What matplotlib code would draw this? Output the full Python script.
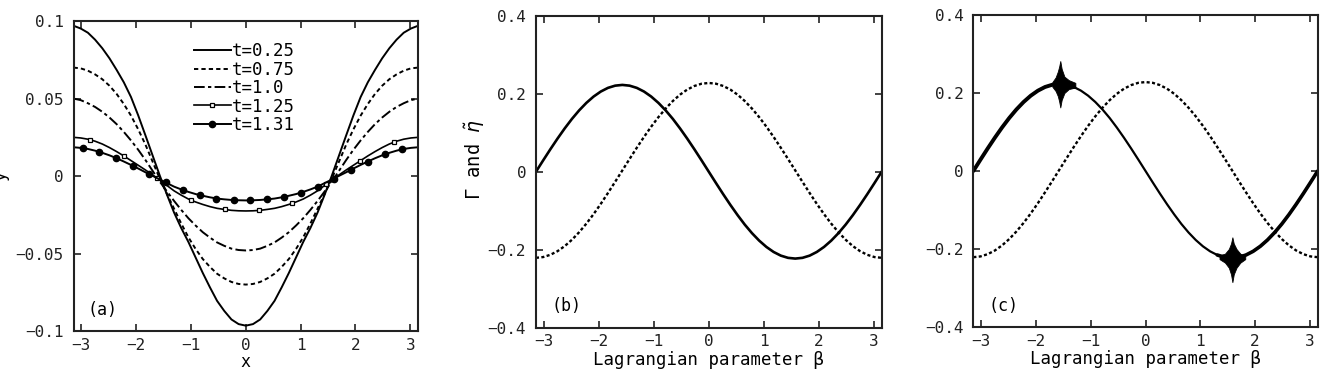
import numpy as np
import matplotlib
matplotlib.use('Agg')
from matplotlib import pyplot as plt
from matplotlib.lines import Line2D

plt.rcParams['font.family'] = ['DejaVu Sans Mono', 'DejaVu Sans']

# shared x grid (step pi/24)
x_grid = [-3.1416, -3.011, -2.880, -2.749, -2.618, -2.487, -2.356, -2.225, -2.094, -1.963, -1.833, -1.702,
          -1.571, -1.440, -1.309, -1.178, -1.047, -0.916, -0.785, -0.654, -0.524, -0.393, -0.262, -0.131,
          0.0,
          0.131, 0.262, 0.393, 0.524, 0.654, 0.785, 0.916, 1.047, 1.178, 1.309, 1.440, 1.571,
          1.702, 1.833, 1.963, 2.094, 2.225, 2.356, 2.487, 2.618, 2.749, 2.880, 3.011, 3.1416]

# panel (a): surface y(x) at several times
y_t025 = [0.097, 0.0952, 0.0925, 0.0880, 0.0825, 0.0760, 0.0685, 0.0605, 0.051, 0.0392, 0.0265, 0.0135,
          0.0005, -0.0118, -0.0235, -0.0335, -0.0425, -0.0525, -0.0625, -0.0718, -0.0805, -0.0870, -0.0925, -0.0955,
          -0.0965,
          -0.0955, -0.0925, -0.0870, -0.0805, -0.0718, -0.0625, -0.0525, -0.0425, -0.0335, -0.0235, -0.0118, 0.0005,
          0.0135, 0.0265, 0.0392, 0.051, 0.0605, 0.0685, 0.0760, 0.0825, 0.0880, 0.0925, 0.0952, 0.097]
y_t075 = [0.070, 0.0695, 0.068, 0.0656, 0.0625, 0.0583, 0.053, 0.0465, 0.039, 0.0302, 0.0205, 0.0095,
          -0.0015, -0.0113, -0.021, -0.0306, -0.0395, -0.047, -0.0535, -0.0586, -0.063, -0.066, -0.0683, -0.0696,
          -0.070,
          -0.0696, -0.0683, -0.066, -0.063, -0.0586, -0.0535, -0.047, -0.0395, -0.0306, -0.021, -0.0113, -0.0015,
          0.0095, 0.0205, 0.0302, 0.039, 0.0465, 0.053, 0.0583, 0.0625, 0.0656, 0.068, 0.0695, 0.070]
y_t100 = [0.050, 0.049, 0.047, 0.0446, 0.0415, 0.0378, 0.0335, 0.0285, 0.023, 0.017, 0.0105, 0.0035,
          -0.0035, -0.0098, -0.016, -0.0218, -0.0272, -0.0319, -0.0362, -0.0397, -0.0428, -0.045, -0.0468, -0.0477,
          -0.048,
          -0.0477, -0.0468, -0.045, -0.0428, -0.0397, -0.0362, -0.0319, -0.0272, -0.0218, -0.016, -0.0098, -0.0035,
          0.0035, 0.0105, 0.017, 0.023, 0.0285, 0.0335, 0.0378, 0.0415, 0.0446, 0.047, 0.049, 0.050]
y_t125 = [0.025, 0.0246, 0.0238, 0.0225, 0.0207, 0.0184, 0.0158, 0.013, 0.010, 0.007, 0.004, 0.0008,
          -0.0025, -0.006, -0.0095, -0.0123, -0.0148, -0.0167, -0.0183, -0.0197, -0.0208, -0.0215, -0.0221, -0.0224,
          -0.0225,
          -0.0224, -0.0221, -0.0215, -0.0208, -0.0197, -0.0183, -0.0167, -0.0148, -0.0123, -0.0095, -0.006, -0.0025,
          0.0008, 0.004, 0.007, 0.010, 0.013, 0.0158, 0.0184, 0.0207, 0.0225, 0.0238, 0.0246, 0.025]
y_t131 = [0.0186, 0.0182, 0.0175, 0.0164, 0.015, 0.0134, 0.0115, 0.0094, 0.0072, 0.0049, 0.0025, 0.0002,
          -0.0022, -0.0045, -0.0068, -0.0086, -0.0102, -0.0116, -0.0127, -0.0137, -0.0145, -0.015, -0.0154, -0.0156,
          -0.0157,
          -0.0156, -0.0154, -0.015, -0.0145, -0.0137, -0.0127, -0.0116, -0.0102, -0.0086, -0.0068, -0.0045, -0.0022,
          0.0002, 0.0025, 0.0049, 0.0072, 0.0094, 0.0115, 0.0134, 0.015, 0.0164, 0.0175, 0.0182, 0.0186]

# marker positions on the t=1.25 and t=1.31 curves
mk125_x = [-2.85, -2.23, -1.62, -1.00, -0.38, 0.24, 0.85, 1.47, 2.09, 2.70]
mk125_y = [0.0235, 0.013, -0.0012, -0.0155, -0.0215, -0.0221, -0.0175, -0.005, 0.010, 0.022]
mk131_x = [-2.97, -2.68, -2.37, -2.06, -1.76, -1.46, -1.15, -0.83, -0.54, -0.21,
           0.08, 0.38, 0.69, 1.00, 1.31, 1.60, 1.92, 2.22, 2.54, 2.84]
mk131_y = [0.018, 0.0156, 0.0116, 0.0067, 0.0012, -0.0037, -0.0088, -0.0124, -0.0145, -0.0155,
           -0.0157, -0.015, -0.0135, -0.0107, -0.0068, -0.0018, 0.004, 0.0093, 0.014, 0.0172]

# panels (b), (c): Gamma (solid) and eta (dotted) vs beta
gamma = [0.0, 0.0291, 0.0577, 0.0853, 0.1115, 0.1358, 0.1577, 0.1769, 0.1931, 0.2060, 0.2154, 0.2211,
         0.223, 0.2211, 0.2154, 0.2060, 0.1931, 0.1769, 0.1577, 0.1358, 0.1115, 0.0853, 0.0577, 0.0291,
         0.0,
         -0.0291, -0.0577, -0.0853, -0.1115, -0.1358, -0.1577, -0.1769, -0.1931, -0.2060, -0.2154, -0.2211, -0.223,
         -0.2211, -0.2154, -0.2060, -0.1931, -0.1769, -0.1577, -0.1358, -0.1115, -0.0853, -0.0577, -0.0291, 0.0]
eta = [-0.221, -0.2191, -0.2133, -0.2039, -0.1909, -0.1746, -0.1552, -0.1332, -0.1088, -0.0824, -0.0546, -0.0258,
       0.0035, 0.0328, 0.0616, 0.0894, 0.1158, 0.1402, 0.1622, 0.1816, 0.1979, 0.2109, 0.2203, 0.2261,
       0.228,
       0.2261, 0.2203, 0.2109, 0.1979, 0.1816, 0.1622, 0.1402, 0.1158, 0.0894, 0.0616, 0.0328, 0.0035,
       -0.0258, -0.0546, -0.0824, -0.1088, -0.1332, -0.1552, -0.1746, -0.1909, -0.2039, -0.2133, -0.2191, -0.221]

# oscillation bursts in panel (c): envelope outlines
burst1_x = [-1.70, -1.64, -1.60, -1.575, -1.555, -1.53, -1.48, -1.40, -1.28]
burst1_hi = [0.228, 0.240, 0.255, 0.268, 0.282, 0.262, 0.242, 0.233, 0.226]
burst1_lo = [0.216, 0.205, 0.192, 0.178, 0.163, 0.182, 0.200, 0.210, 0.214]
burst2_x = [1.35, 1.45, 1.52, 1.56, 1.585, 1.61, 1.66, 1.73, 1.82]
burst2_hi = [-0.216, -0.212, -0.200, -0.186, -0.170, -0.186, -0.200, -0.212, -0.218]
burst2_lo = [-0.226, -0.235, -0.248, -0.265, -0.285, -0.265, -0.248, -0.235, -0.226]

x_ticks = [-3, -2, -1, 0, 1, 2, 3]


def style_axes(ax, yticks, ylabels):
    ax.set_xlim(-3.1416, 3.1416)
    ax.set_xticks(x_ticks)
    ax.set_xticklabels(['\u22123', '\u22122', '\u22121', '0', '1', '2', '3'])
    ax.set_ylim(yticks[-1], yticks[0])
    ax.set_yticks(yticks)
    ax.set_yticklabels(ylabels)
    ax.tick_params(direction='in', top=True, right=True, length=5, width=1.2,
                   labelsize=11.5, colors='#222222')
    ax.tick_params(axis='y', pad=7)
    ax.tick_params(axis='x', pad=5)
    for s in ax.spines.values():
        s.set_linewidth(1.5)
        s.set_color('#222222')


def main():
    fig = plt.figure(figsize=(13.23, 3.72), dpi=100)
    ax_a = fig.add_axes([0.0556, 0.110, 0.2604, 0.8333])
    ax_b = fig.add_axes([0.4051, 0.1196, 0.2613, 0.8374])
    ax_c = fig.add_axes([0.7357, 0.121, 0.2603, 0.8387])

    # (a)
    ls075 = (0, (2.2, 1.6))
    ls100 = (0, (5.5, 1.7, 1.7, 1.7))
    ax_a.plot(x_grid, y_t025, color='k', lw=1.4)
    ax_a.plot(x_grid, y_t075, color='k', lw=1.4, linestyle=ls075)
    ax_a.plot(x_grid, y_t100, color='k', lw=1.4, linestyle=ls100)
    ax_a.plot(x_grid, y_t125, color='k', lw=1.2)
    ax_a.plot(mk125_x, mk125_y, linestyle='none', marker='s', ms=3.5, mfc='white', mec='k', mew=0.9)
    ax_a.plot(x_grid, y_t131, color='k', lw=1.4)
    ax_a.plot(mk131_x, mk131_y, linestyle='none', marker='o', ms=4.5, mfc='k', mec='k')

    style_axes(ax_a, [0.1, 0.05, 0, -0.05, -0.1], ['0.1', '0.05', '0', '\u22120.05', '\u22120.1'])
    ax_a.set_xlabel('x', fontsize=12, labelpad=0)
    ax_a.set_ylabel('y', fontsize=12)
    ax_a.yaxis.set_label_coords(-0.187, 0.5)
    ax_a.text(0.04, 0.04, '(a)', transform=ax_a.transAxes, fontsize=12, ha='left', va='bottom')

    handles = [
        Line2D([], [], color='k', lw=1.4),
        Line2D([], [], color='k', lw=1.4, linestyle=ls075),
        Line2D([], [], color='k', lw=1.4, linestyle=ls100),
        Line2D([], [], color='k', lw=1.2, marker='s', ms=3.5, mfc='white', mec='k', mew=0.9),
        Line2D([], [], color='k', lw=1.4, marker='o', ms=4.5, mfc='k'),
    ]
    labels = ['t=0.25', 't=0.75', 't=1.0', 't=1.25', 't=1.31']
    ax_a.legend(handles, labels, loc='upper left', bbox_to_anchor=(0.35, 0.931), frameon=False,
                fontsize=12.5, handlelength=2.1, handletextpad=0.1, labelspacing=0.02,
                borderpad=0, borderaxespad=0)

    # (b)
    ls_dot = (0, (1.3, 1.0))
    ax_b.plot(x_grid, gamma, color='k', lw=1.9)
    ax_b.plot(x_grid, eta, color='k', lw=1.7, linestyle=ls_dot)
    style_axes(ax_b, [0.4, 0.2, 0, -0.2, -0.4], ['0.4', '0.2', '0', '\u22120.2', '\u22120.4'])
    ax_b.set_xlabel('Lagrangian parameter \u03b2', fontsize=12.5, labelpad=1)
    ax_b.set_ylabel('\u0393 and $\\tilde{\\eta}$', fontsize=13.5)
    ax_b.yaxis.set_label_coords(-0.142, 0.54)
    ax_b.text(0.045, 0.04, '(b)', transform=ax_b.transAxes, fontsize=12, ha='left', va='bottom')

    # (c)
    ax_c.plot(x_grid, gamma, color='k', lw=1.6)
    g = np.array(gamma)
    xg = np.array(x_grid)
    left = xg <= -1.30
    right = xg >= 1.30
    ax_c.plot(xg[left], g[left], color='k', lw=2.8, solid_capstyle='round')
    ax_c.plot(xg[right], g[right], color='k', lw=2.6, solid_capstyle='round')
    ax_c.fill_between(burst1_x, burst1_lo, burst1_hi, color='k', lw=0.6, edgecolor='k')
    ax_c.fill_between(burst2_x, burst2_lo, burst2_hi, color='k', lw=0.6, edgecolor='k')
    ax_c.plot(x_grid, eta, color='k', lw=1.7, linestyle=ls_dot)
    style_axes(ax_c, [0.4, 0.2, 0, -0.2, -0.4], ['0.4', '0.2', '0', '\u22120.2', '\u22120.4'])
    ax_c.set_xlabel('Lagrangian parameter \u03b2', fontsize=12.5, labelpad=1)
    ax_c.text(0.043, 0.04, '(c)', transform=ax_c.transAxes, fontsize=12, ha='left', va='bottom')

    fig.savefig('out.png', dpi=100)


if __name__ == '__main__':
    main()
